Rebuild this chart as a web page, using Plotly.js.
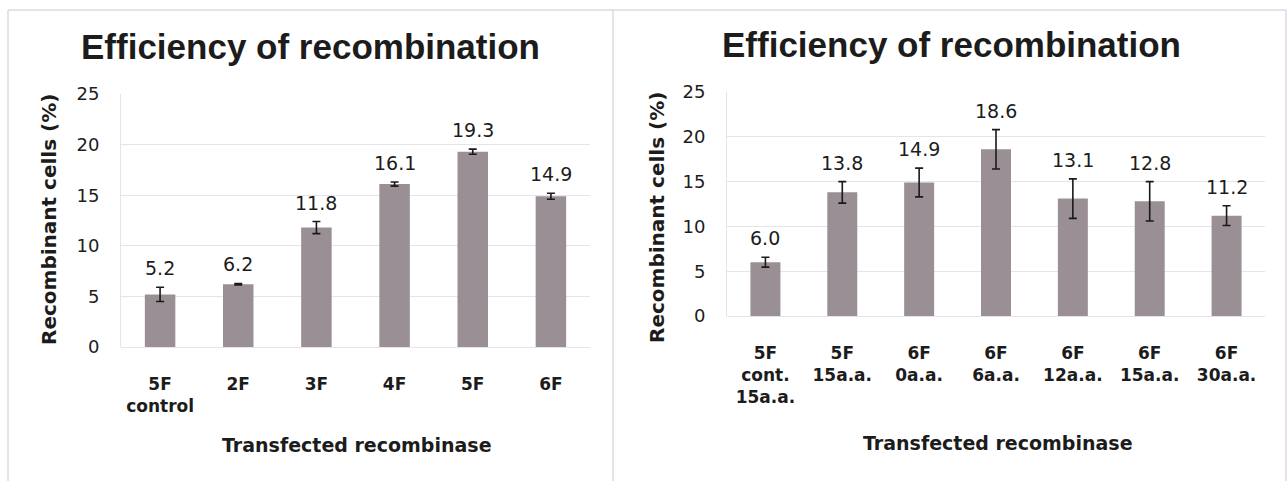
<!DOCTYPE html>
<html>
<head>
<meta charset="utf-8">
<script src="https://cdn.plot.ly/plotly-3.0.1.min.js"></script>
<style>html,body{margin:0;padding:0;background:#fff;}#chart{width:1288px;height:481px;}</style>
</head>
<body>
<div id="chart"></div>
<script>
// ---- data ----
const chartTitle = 'Efficiency of recombination';
const yTitle = 'Recombinant cells (%)';
const xTitle = 'Transfected recombinase';

const leftCategories = ['5F<br>control', '2F', '3F', '4F', '5F', '6F'];
const leftValues = [5.2, 6.2, 11.8, 16.1, 19.3, 14.9];
const leftErrors = [0.7, 0.08, 0.6, 0.2, 0.25, 0.3];

const rightCategories = ['5F<br>cont.<br>15a.a.', '5F<br>15a.a.', '6F<br>0a.a.', '6F<br>6a.a.', '6F<br>12a.a.', '6F<br>15a.a.', '6F<br>30a.a.'];
const rightValues = [6.0, 13.8, 14.9, 18.6, 13.1, 12.8, 11.2];
const rightErrors = [0.55, 1.2, 1.6, 2.2, 2.2, 2.2, 1.1];

// ---- styling ----
const W = 1288, H = 481;
const TFONT = 'Liberation Sans, Arial, sans-serif';
const FONT = 'DejaVu Sans, sans-serif';
const barColor = '#998f94';
const gridColor = '#e7e2ef';
const txt = '#1c1c1c';
const px = v => v / W;
const py = v => 1 - v / H;

const errStyle = {type: 'data', visible: true, color: '#1a1a1a', thickness: 1.6, width: 4};

const traces = [
  {type: 'bar', x: leftCategories, y: leftValues, xaxis: 'x', yaxis: 'y',
   marker: {color: barColor}, error_y: Object.assign({array: leftErrors}, errStyle), hoverinfo: 'x+y'},
  {type: 'bar', x: rightCategories, y: rightValues, xaxis: 'x2', yaxis: 'y2',
   marker: {color: barColor}, error_y: Object.assign({array: rightErrors}, errStyle), hoverinfo: 'x+y'}
];

const valueAnn = (cats, vals, errs, xr, yr) => cats.map((c, i) => ({
  x: c, y: vals[i] + errs[i], xref: xr, yref: yr, text: vals[i].toFixed(1),
  showarrow: false, yanchor: 'bottom', yshift: 6,
  font: {family: FONT, size: 19, color: txt}
}));

const yAxisBase = {
  range: [0, 25], dtick: 5, tick0: 0, showgrid: true, gridcolor: gridColor, gridwidth: 1,
  zeroline: true, zerolinecolor: gridColor, zerolinewidth: 1,
  showline: true, linecolor: gridColor, linewidth: 1, ticks: '',
  ticklabelstandoff: 17,
  tickfont: {family: FONT, size: 18, color: txt}, fixedrange: true
};
const xAxisBase = {
  type: 'category', showgrid: false, zeroline: false, showline: false, ticks: '',
  ticklabelstandoff: 25,
  tickfont: {family: FONT, size: 17, color: txt, weight: 'bold'}, fixedrange: true
};

const titleFont = {family: TFONT, size: 35, color: txt, weight: 'bold'};
const yTitleFont = {family: FONT, size: 20, color: txt, weight: 'bold'};
const xTitleFont = {family: FONT, size: 19, color: txt, weight: 'bold'};

const annotations = [
  {text: chartTitle, x: px(310), y: py(46), xref: 'paper', yref: 'paper', showarrow: false,
   xanchor: 'center', yanchor: 'middle', font: titleFont},
  {text: chartTitle, x: px(951), y: py(44), xref: 'paper', yref: 'paper', showarrow: false,
   xanchor: 'center', yanchor: 'middle', font: titleFont},
  {text: yTitle, x: px(49), y: py(220), xref: 'paper', yref: 'paper', showarrow: false, textangle: -90,
   xanchor: 'center', yanchor: 'middle', font: yTitleFont},
  {text: yTitle, x: px(657), y: py(217), xref: 'paper', yref: 'paper', showarrow: false, textangle: -90,
   xanchor: 'center', yanchor: 'middle', font: yTitleFont},
  {text: xTitle, x: px(357), y: py(445), xref: 'paper', yref: 'paper', showarrow: false,
   xanchor: 'center', yanchor: 'middle', font: xTitleFont},
  {text: xTitle, x: px(998), y: py(443), xref: 'paper', yref: 'paper', showarrow: false,
   xanchor: 'center', yanchor: 'middle', font: xTitleFont}
].concat(valueAnn(leftCategories, leftValues, leftErrors, 'x', 'y'))
 .concat(valueAnn(rightCategories, rightValues, rightErrors, 'x2', 'y2'));

const borderColor = '#cdc6d6';
const shapes = [
  {type: 'line', xref: 'paper', yref: 'paper', x0: px(8), x1: px(1286), y0: py(10), y1: py(10), line: {color: borderColor, width: 1}},
  {type: 'line', xref: 'paper', yref: 'paper', x0: px(8), x1: px(8), y0: py(10), y1: 0, line: {color: borderColor, width: 1}},
  {type: 'line', xref: 'paper', yref: 'paper', x0: px(613), x1: px(613), y0: py(10), y1: 0, line: {color: borderColor, width: 1}},
  {type: 'line', xref: 'paper', yref: 'paper', x0: px(1286), x1: px(1286), y0: py(10), y1: 0, line: {color: borderColor, width: 1}}
];

const layout = {
  width: W, height: H,
  margin: {l: 0, r: 0, t: 0, b: 0},
  paper_bgcolor: '#ffffff', plot_bgcolor: '#ffffff',
  showlegend: false, bargap: 0.61,
  font: {family: FONT, color: txt},
  xaxis: Object.assign({}, xAxisBase, {domain: [px(121), px(590)], anchor: 'y'}),
  yaxis: Object.assign({}, yAxisBase, {domain: [py(347), py(94)], anchor: 'x'}),
  xaxis2: Object.assign({}, xAxisBase, {domain: [px(727), px(1265)], anchor: 'y2'}),
  yaxis2: Object.assign({}, yAxisBase, {domain: [py(316), py(92)], anchor: 'x2'}),
  annotations: annotations,
  shapes: shapes
};

Plotly.newPlot('chart', traces, layout, {displayModeBar: false, staticPlot: true});
</script>
</body>
</html>
